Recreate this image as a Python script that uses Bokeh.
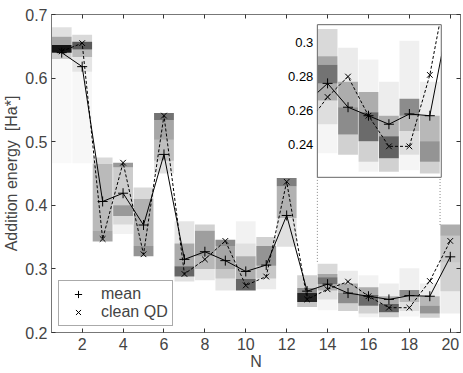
from bokeh.plotting import figure
from bokeh.models import Range1d, LinearAxis, FixedTicker, Legend, LegendItem, ColumnDataSource
from bokeh.core.properties import value
from bokeh.embed import file_html
from bokeh.resources import INLINE

# ---------------- data ----------------
N = list(range(1, 21))
mean_vals = [0.640, 0.618, 0.406, 0.419, 0.369, 0.480, 0.315, 0.327, 0.313, 0.296,
             0.306, 0.384, 0.265, 0.276, 0.262, 0.257, 0.252, 0.258, 0.257, 0.319]
clean_vals = [0.642, 0.655, 0.347, 0.467, 0.323, 0.541, 0.292, 0.315, 0.344, 0.274,
              0.288, 0.437, 0.252, 0.268, 0.280, 0.257, 0.239, 0.239, 0.281, 0.344]
x_ticks = [2, 4, 6, 8, 10, 12, 14, 16, 18, 20]
y_ticks = [0.2, 0.3, 0.4, 0.5, 0.6, 0.7]
y_tick_labels = ["0.2", "0.3", "0.4", "0.5", "0.6", "0.7"]
inset_ticks = [0.24, 0.26, 0.28, 0.30]
inset_tick_labels = ["0.24", "0.26", "0.28", "0.3"]

# distribution bands (grey columns), one line per N
band_n = [1] * 5 + [2] * 5 + [3] * 3 + [4] * 5 + [5] * 3 + [6] * 4 + [7] * 4 + [8] * 4 + [9] * 4 + \
         [10] * 4 + [11] * 4 + [12] * 3 + [13] * 4 + [14] * 6 + [15] * 4 + [16] * 5 + [17] * 4 + \
         [18] * 5 + [19] * 4 + [20] * 4
band_hi = [0.680, 0.665, 0.652, 0.640, 0.630,
           0.668, 0.657, 0.645, 0.633, 0.610,
           0.475, 0.465, 0.360,
           0.467, 0.460, 0.400, 0.383, 0.370,
           0.428, 0.410, 0.336,
           0.545, 0.534, 0.503, 0.470,
           0.375, 0.340, 0.304, 0.288,
           0.370, 0.360, 0.320, 0.300,
           0.346, 0.336, 0.300, 0.285,
           0.375, 0.340, 0.320, 0.284,
           0.350, 0.336, 0.305, 0.285,
           0.443, 0.430, 0.380,
           0.290, 0.270, 0.262, 0.248,
           0.308, 0.292, 0.287, 0.276, 0.266, 0.252,
           0.297, 0.277, 0.262, 0.246,
           0.290, 0.271, 0.259, 0.242, 0.230,
           0.277, 0.257, 0.245, 0.232,
           0.301, 0.267, 0.257, 0.248, 0.234,
           0.277, 0.257, 0.242, 0.230,
           0.370, 0.352, 0.310, 0.265]
band_lo = [0.665, 0.652, 0.640, 0.630, 0.466,
           0.657, 0.645, 0.633, 0.610, 0.466,
           0.465, 0.360, 0.343,
           0.460, 0.400, 0.383, 0.370, 0.355,
           0.410, 0.336, 0.320,
           0.534, 0.503, 0.470, 0.450,
           0.340, 0.304, 0.288, 0.280,
           0.360, 0.320, 0.300, 0.282,
           0.336, 0.300, 0.285, 0.266,
           0.340, 0.320, 0.284, 0.266,
           0.336, 0.305, 0.285, 0.268,
           0.430, 0.380, 0.335,
           0.270, 0.262, 0.248, 0.240,
           0.292, 0.287, 0.276, 0.266, 0.252, 0.235,
           0.277, 0.262, 0.246, 0.234,
           0.271, 0.259, 0.242, 0.230, 0.224,
           0.257, 0.245, 0.232, 0.224,
           0.267, 0.257, 0.248, 0.234, 0.225,
           0.257, 0.242, 0.230, 0.223,
           0.352, 0.310, 0.265, 0.230]
band_dark = [0.12, 0.35, 0.92, 0.20, 0.025,
             0.15, 0.65, 0.28, 0.10, 0.03,
             0.15, 0.27, 0.35,
             0.40, 0.20, 0.40, 0.15, 0.05,
             0.15, 0.30, 0.42,
             0.55, 0.35, 0.25, 0.12,
             0.10, 0.33, 0.60, 0.12,
             0.18, 0.38, 0.28, 0.10,
             0.45, 0.35, 0.22, 0.10,
             0.05, 0.12, 0.32, 0.60,
             0.18, 0.42, 0.22, 0.08,
             0.50, 0.30, 0.12,
             0.18, 0.45, 0.85, 0.22,
             0.15, 0.35, 0.55, 0.32, 0.13, 0.04,
             0.08, 0.32, 0.45, 0.18,
             0.05, 0.32, 0.58, 0.18, 0.05,
             0.07, 0.32, 0.62, 0.18,
             0.06, 0.45, 0.28, 0.13, 0.04,
             0.07, 0.28, 0.42, 0.18,
             0.32, 0.22, 0.18, 0.07]

# ---------------- layout constants ----------------
FONT = "Liberation Sans"
BW = 0.97                      # column width
INSET_X = (13.5, 19.56)        # inset frame in N
INSET_LIM = (0.2208, 0.3105)   # inset y limits
INSET_BOX = (0.444, 0.684)     # inset frame placed in main y coords
CONN_TOP = [0.311, 0.369]      # where dotted connectors start (main y)
AX_GREY = "#777777"

p = figure(width=462, height=372, x_range=Range1d(0.5, 20.5), y_range=Range1d(0.2, 0.7),
           output_backend="svg", toolbar_location=None,
           min_border_left=50, min_border_right=2, min_border_top=14, min_border_bottom=8,
           x_axis_label="N", y_axis_label="Addition energy\u00a0 [Ha*]")
p.xgrid.visible = False
p.ygrid.visible = False
p.outline_line_color = AX_GREY
p.background_fill_color = "white"

for ax, ticks in ((p.xaxis[0], x_ticks), (p.yaxis[0], y_ticks)):
    ax.ticker = FixedTicker(ticks=ticks)
    ax.major_label_text_font = FONT
    ax.major_label_text_font_size = "16px"
    ax.axis_label_text_font = FONT
    ax.axis_label_text_font_size = "16px"
    ax.axis_label_text_font_style = "normal"
    ax.major_tick_in = 4
    ax.major_tick_out = 0
    ax.minor_tick_line_color = None
    ax.axis_line_color = AX_GREY
    ax.major_tick_line_color = "#333333"
p.xaxis[0].major_label_standoff = 5
p.xaxis[0].axis_label_standoff = 0
p.yaxis[0].major_label_standoff = 4
p.yaxis[0].axis_label_standoff = 2
p.yaxis[0].major_label_overrides = dict(zip(y_ticks, y_tick_labels))


def bare_axis(ticks):
    return LinearAxis(ticker=FixedTicker(ticks=ticks), major_label_overrides={t: "" for t in ticks},
                      major_tick_in=4, major_tick_out=0, minor_tick_line_color=None,
                      axis_line_color=AX_GREY, major_tick_line_color="#333333", major_label_standoff=0)


p.add_layout(bare_axis(x_ticks), "above")
p.add_layout(bare_axis(y_ticks), "right")

# inset y range: linear map of INSET_LIM onto INSET_BOX in main coordinates
slope = (INSET_LIM[1] - INSET_LIM[0]) / (INSET_BOX[1] - INSET_BOX[0])
ins_start = INSET_LIM[0] - (INSET_BOX[0] - 0.2) * slope
ins_end = INSET_LIM[1] + (0.7 - INSET_BOX[1]) * slope
p.extra_y_ranges = {"inset": Range1d(ins_start, ins_end)}

# ---------------- main plot ----------------
bands = ColumnDataSource(dict(left=[n - BW / 2 for n in band_n], right=[n + BW / 2 for n in band_n],
                              top=band_hi, bottom=band_lo, alpha=band_dark))
p.quad(left="left", right="right", top="top", bottom="bottom", source=bands,
       fill_color="black", fill_alpha="alpha", line_color=None)

# dotted connectors from data to inset
p.segment(x0=[INSET_X[0], 19.5], y0=CONN_TOP, x1=[INSET_X[0], 19.5], y1=[INSET_BOX[0], INSET_BOX[0]],
          line_color="#888888", line_dash="1 2", line_width=1)

p.line(N, mean_vals, line_color="black", line_width=1)
p.line(N, clean_vals, line_color="black", line_width=1, line_dash="3 2")
r_mean = p.scatter(N, mean_vals, marker="cross", size=10, line_color="black", line_width=1)
r_clean = p.scatter(N, clean_vals, marker="x", size=8, line_color="black", line_width=1)

# ---------------- inset ----------------
p.quad(left=[INSET_X[0]], right=[INSET_X[1]], bottom=[INSET_LIM[0]], top=[INSET_LIM[1]],
       y_range_name="inset", fill_color="white", line_color=None)
sel = [i for i, n in enumerate(band_n) if 14 <= n <= 19]
ibands = ColumnDataSource(dict(left=[band_n[i] - BW / 2 for i in sel], right=[band_n[i] + BW / 2 for i in sel],
                               top=[band_hi[i] for i in sel], bottom=[band_lo[i] for i in sel],
                               alpha=[band_dark[i] for i in sel]))
p.quad(left="left", right="right", top="top", bottom="bottom", source=ibands, y_range_name="inset",
       fill_color="black", fill_alpha="alpha", line_color=None)
p.line(N[12:20], mean_vals[12:20], y_range_name="inset", line_color="black", line_width=1)
p.line(N[12:20], clean_vals[12:20], y_range_name="inset", line_color="black", line_width=1, line_dash="3 2")
p.scatter(N[13:19], mean_vals[13:19], y_range_name="inset", marker="cross", size=10, line_color="black")
p.scatter(N[13:19], clean_vals[13:19], y_range_name="inset", marker="x", size=8, line_color="black")
# masks hiding inset lines outside its frame
p.quad(left=[12.9, INSET_X[1], 19.0], right=[INSET_X[0], 20.5, 20.5],
       bottom=[INSET_LIM[0], INSET_LIM[0], INSET_LIM[1]], top=[INSET_LIM[1], ins_end, ins_end],
       y_range_name="inset", fill_color="white", line_color=None)
p.quad(left=[INSET_X[0]], right=[INSET_X[1]], bottom=[INSET_LIM[0]], top=[INSET_LIM[1]],
       y_range_name="inset", fill_color=None, line_color="#666666", line_width=1)
p.text(x=[INSET_X[0]] * len(inset_ticks), y=inset_ticks, text=inset_tick_labels, y_range_name="inset",
       x_offset=-4, text_align="right", text_baseline="middle",
       text_font=value(FONT), text_font_size="13px", text_color="black")

# ---------------- legend ----------------
legend = Legend(items=[LegendItem(label="mean", renderers=[r_mean]),
                       LegendItem(label="clean QD", renderers=[r_clean])],
                location=(7, 6), padding=4, spacing=0, margin=0,
                glyph_width=30, glyph_height=18, label_standoff=8,
                label_text_font=FONT, label_text_font_size="16px",
                border_line_color="#555555", background_fill_color="white", background_fill_alpha=1.0)
p.add_layout(legend)

open("out.html", "w").write(file_html(p, INLINE))
